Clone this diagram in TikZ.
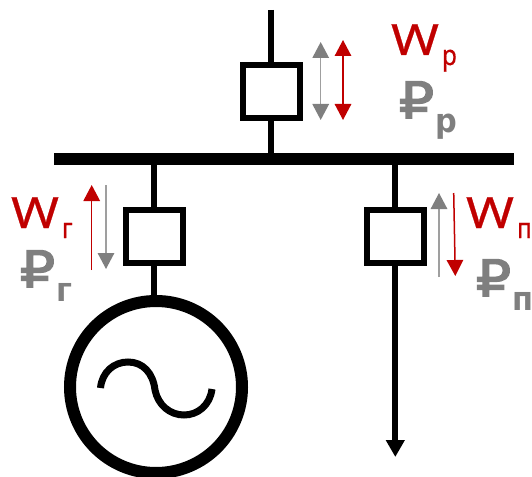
\documentclass[tikz,border=0pt]{standalone}
\usepackage{fontspec}
\setmainfont{Noto Sans}
\newfontfamily\rubfont[FakeBold=3]{DejaVu Sans}
\newfontfamily\rubsub{DejaVu Sans}
\newfontfamily\wfont[FakeBold=0.5]{Noto Sans}
\usetikzlibrary{arrows.meta}
\definecolor{cred}{HTML}{C00000}
\definecolor{cgrey}{HTML}{7F7F7F}
\newcommand{\wlab}[1]{\wfont\fontsize{43}{43}\selectfont\color{cred}\scalebox{1.2}[1]{W}\kern3pt\raisebox{-10pt}{\fontsize{28}{28}\selectfont\scalebox{0.87}[1]{#1}}}
\newcommand{\rlab}[1]{\rubfont\fontsize{50}{50}\selectfont\color{cgrey}\scalebox{1.1}[1]{₽}\kern1.5pt\raisebox{-14pt}{\rubsub\bfseries\fontsize{33}{33}\selectfont\scalebox{0.92}[1]{#1}}}
\tikzset{
  x=1pt,y=-1pt,
  wire/.style={line width=6pt,black},
  switchbox/.style={draw=black,line width=6pt,fill=white,minimum width=57pt,minimum height=53pt,inner sep=0pt,outer sep=0pt},
  bus/.style={fill=black,minimum width=460pt,minimum height=12pt,inner sep=0pt,outer sep=0pt},
  gen/.style={circle,draw=black,line width=12pt,fill=white,minimum size=172pt,inner sep=0pt,outer sep=0pt},
  flowred/.style={draw=cred,line width=1.5pt},
  flowgrey/.style={draw=cgrey!75,line width=1.5pt},
  headred/.style={-{Triangle[length=16pt,width=16.5pt,color=cred]}},
  headgrey/.style={-{Triangle[length=16pt,width=16.5pt,color=cgrey]}},
  dualred/.style={{Triangle[length=16pt,width=16.5pt,color=cred]}-{Triangle[length=16pt,width=16.5pt,color=cred]}},
  dualgrey/.style={{Triangle[length=16pt,width=16.5pt,color=cgrey]}-{Triangle[length=16pt,width=16.5pt,color=cgrey]}},
  lab/.style={anchor=base west,inner sep=0pt,outer sep=0pt},
}
\begin{document}
\begin{tikzpicture}
\useasboundingbox (0,0) rectangle (532,476);
\node[bus] (busbar) at (284,159) {};
\node[switchbox] (boxP) at (271,91.5) {};
\node[switchbox] (boxG) at (154,236) {};
\node[switchbox] (boxL) at (395.3,236) {};
\node[gen] (genr) at (156,387) {};
\coordinate (topEnd) at (271,10);
\coordinate (loadEnd) at (395.3,457);
\coordinate (busP) at (271,158);
\coordinate (busG) at (154,160);
\coordinate (busL) at (395.3,160);
\coordinate (genTop) at (154,298);
\draw[wire] (topEnd) -- (boxP.north);
\draw[wire] (boxP.south) -- (busP);
\draw[wire] (busG) -- (boxG.north);
\draw[wire] (boxG.south) -- (genTop);
\draw[wire] (busL) -- (boxL.north);
\draw[wire,-{Triangle[length=17pt,width=18pt]}] (boxL.south) -- (loadEnd);
% sine
\draw[line width=7pt,line cap=butt] (100.5,388) .. controls (102,372) and (114,362) .. (128,362)
  .. controls (143,362) and (153,373) .. (155,390)
  .. controls (158,405) and (170,415) .. (184,415)
  .. controls (198,415) and (210,405) .. (212,389);
% flow arrows
\coordinate (g1a) at (320.7,42); \coordinate (g1b) at (320.7,120);
\coordinate (r1a) at (343,40); \coordinate (r1b) at (343,120);
\coordinate (r2a) at (91.7,270); \coordinate (r2b) at (91.7,185);
\coordinate (g2a) at (106,185); \coordinate (g2b) at (106,269);
\coordinate (g3a) at (439,277); \coordinate (g3b) at (439,193);
\coordinate (r3a) at (453.7,193); \coordinate (r3b) at (455.3,276);
\draw[flowgrey,dualgrey] (g1a) -- (g1b);
\draw[flowred,dualred] (r1a) -- (r1b);
\draw[flowred,headred] (r2a) -- (r2b);
\draw[flowgrey,headgrey] (g2a) -- (g2b);
\draw[flowgrey,headgrey] (g3a) -- (g3b);
\draw[flowred,headred] (r3a) -- (r3b);
% labels
\node[lab] (wp) at (391,55) {\wlab{р}};
\node[lab] (rp) at (399,118) {\rlab{р}};
\node[lab] (wg) at (11,228) {\wlab{г}};
\node[lab] (rg) at (20,287) {\rlab{г}};
\node[lab] (wl) at (466,228) {\wlab{п}};
\node[lab] (rl) at (476,296) {\rlab{п}};
\end{tikzpicture}
\end{document}
